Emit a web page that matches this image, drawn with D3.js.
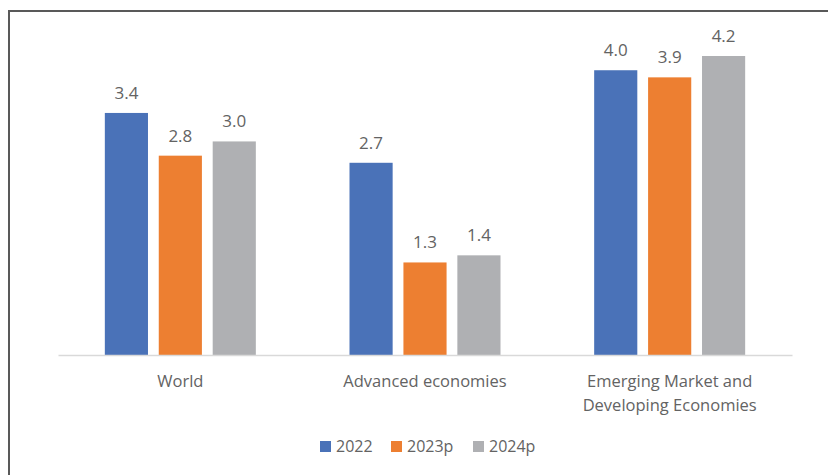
<!DOCTYPE html>
<html>
<head>
<meta charset="utf-8">
<script src="https://cdn.jsdelivr.net/npm/d3@7"></script>
<style>
  body { margin: 0; background: #fff; }
  text { font-family: "Open Sans", "Liberation Sans", sans-serif; fill: #636363; }
</style>
</head>
<body>
<script>
// GDP growth chart, three groups x three years
var categories = ["World", "Advanced economies", "Emerging Market and|Developing Economies"];
var seriesNames = ["2022", "2023p", "2024p"];
var values2022 = [3.4, 2.7, 4.0];
var values2023 = [2.8, 1.3, 3.9];
var values2024 = [3.0, 1.4, 4.2];
var colors = ["#4a72b8", "#ed7f31", "#afb0b3"];

var seriesValues = [values2022, values2023, values2024];

var width = 828,
    height = 475,
    svg = d3.select("body")
    .append("svg")
    .attr("width", width)
    .attr("height", height);

// outer frame (runs off the right and bottom edges)
svg.append("rect")
    .attr("x", 9)
    .attr("y", 11)
    .attr("width", 840)
    .attr("height", 500)
    .attr("fill", "none")
    .attr("stroke", "#595959")
    .attr("stroke-width", 2);

var x0 = d3.scaleBand()
    .domain(categories)
    .range([58, 792]);

var groupW = 151;
var x1 = d3.scaleBand()
    .domain(seriesNames)
    .range([0, groupW])
    .paddingInner(0.2);

var y = d3.scaleLinear()
    .domain([0, 4.2])
    .range([355, 56]);

var groups = svg.selectAll("g.grp")
  .data(categories)
  .enter().append("g")
    .attr("class", "grp")
    .attr("transform", function(d) { return "translate(" + (x0(d) + (x0.bandwidth() - groupW) / 2) + ",0)"; });

groups.selectAll("rect")
  .data(function(d, i) { return seriesNames.map(function(s, j) { return {s: s, v: seriesValues[j][i], c: colors[j]}; }); })
  .enter().append("rect")
    .attr("x", function(d) { return x1(d.s); })
    .attr("y", function(d) { return y(d.v); })
    .attr("width", x1.bandwidth())
    .attr("height", function(d) { return y(0) - y(d.v); })
    .attr("fill", function(d) { return d.c; });

groups.selectAll("text.val")
  .data(function(d, i) { return seriesNames.map(function(s, j) { return {s: s, v: seriesValues[j][i]}; }); })
  .enter().append("text")
    .attr("class", "val")
    .attr("x", function(d) { return x1(d.s) + x1.bandwidth() / 2; })
    .attr("y", function(d) { return y(d.v) - 14; })
    .attr("text-anchor", "middle")
    .attr("font-size", 17)
    .text(function(d) { return d.v.toFixed(1); });

// category axis
var axis = svg.append("g")
    .attr("transform", "translate(0," + y(0) + ")")
    .call(d3.axisBottom(x0).tickSize(0).tickPadding(0).tickFormat(""));
axis.select(".domain").attr("stroke", "#d9d9d9").attr("stroke-width", 1.5);

axis.selectAll(".tick").each(function(d) {
  var t = d3.select(this).select("text")
      .attr("y", 32)
      .attr("dy", null)
      .attr("font-size", 16.5)
      .attr("fill", "#636363");
  d.split("|").forEach(function(line, i) {
    t.append("tspan").attr("x", 0).attr("dy", i ? 24 : 0).text(line);
  });
});

// legend
var legend = svg.append("g").attr("transform", "translate(320,441)");
var offs = [0, 71, 153];
seriesNames.forEach(function(s, i) {
  var lg = legend.append("g").attr("transform", "translate(" + offs[i] + ",0)");
  lg.append("rect").attr("width", 11).attr("height", 11).attr("fill", colors[i]);
  lg.append("text").attr("x", 16).attr("y", 11).attr("font-size", 16).text(s);
});
</script>
</body>
</html>
